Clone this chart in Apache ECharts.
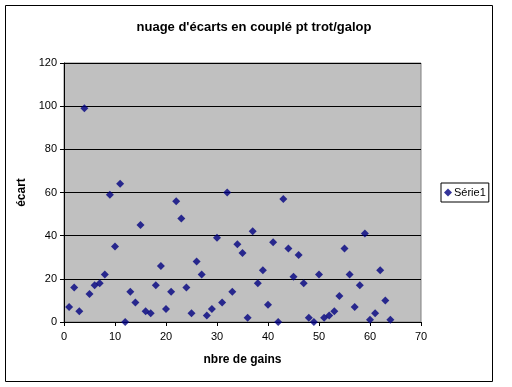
<!DOCTYPE html>
<html>
<head>
<meta charset="utf-8">
<script src="https://cdn.jsdelivr.net/npm/echarts@6/dist/echarts.min.js"></script>
<style>html,body{margin:0;padding:0;background:#fff}#c{width:512px;height:387px}</style>
</head>
<body>
<div id="c"></div>
<script>
const xValues = [1,2,3,4,5,6,7,8,9,10,11,12,13,14,15,16,17,18,19,20,21,22,23,24,25,26,27,28,29,30,31,32,33,34,35,36,37,38,39,40,41,42,43,44,45,46,47,48,49,50,51,52,53,54,55,56,57,58,59,60,61,62,63,64];
const yValues = [7,16,5,99,13,17,18,22,59,35,64,0,14,9,45,5,4,17,26,6,14,56,48,16,4,28,22,3,6,39,9,60,14,36,32,2,42,18,24,8,37,0,57,34,21,31,18,2,0,22,2,3,5,12,34,22,7,17,41,1,4,24,10,1];
const seriesName = 'Série1';
const titleText = "nuage d'écarts en couplé pt trot/galop";
const xName = 'nbre de gains';
const yName = 'écart';

const chart = echarts.init(document.getElementById('c'), null, {renderer: 'canvas'});
const font = 'Liberation Sans, Arial, sans-serif';
chart.setOption({
  backgroundColor: '#ffffff',
  animation: false,
  title: {
    text: titleText, left: 249, top: 16, textAlign: 'center',
    textStyle: {fontFamily: font, fontSize: 13, fontWeight: 'bold', color: '#000'}
  },
  graphic: [{
    type: 'rect', shape: {x: 5.5, y: 5.5, width: 487, height: 376},
    style: {fill: 'none', stroke: '#000', lineWidth: 1}, silent: true, z: -1
  }],
  legend: {
    left: 441, top: 183, orient: 'vertical',
    data: [{name: seriesName, icon: 'diamond'}],
    itemWidth: 8, itemHeight: 8, itemGap: 2,
    padding: [4, 3, 4, 3],
    borderColor: '#000', borderWidth: 1, backgroundColor: '#fff',
    textStyle: {fontFamily: font, fontSize: 11, color: '#000', padding: [0,0,0,-3]}
  },
  grid: {
    left: 64, top: 63, width: 357, height: 259, show: true,
    backgroundColor: '#C0C0C0', borderColor: '#808080', borderWidth: 1
  },
  xAxis: {
    type: 'value', min: 0, max: 70, interval: 10,
    name: xName, nameLocation: 'middle', nameGap: 32,
    nameTextStyle: {fontFamily: font, fontSize: 12, fontWeight: 'bold', color: '#000'},
    axisLine: {show: true, onZero: false, lineStyle: {color: '#000', width: 1}},
    axisTick: {show: true, length: 4, lineStyle: {color: '#000'}},
    axisLabel: {fontFamily: font, fontSize: 11, color: '#000', margin: 9},
    splitLine: {show: false}
  },
  yAxis: {
    type: 'value', min: 0, max: 120, interval: 20,
    name: yName, nameLocation: 'middle', nameGap: 31, nameRotate: 90,
    nameTextStyle: {fontFamily: font, fontSize: 12, fontWeight: 'bold', color: '#000'},
    axisLine: {show: true, onZero: false, lineStyle: {color: '#000', width: 1}},
    axisTick: {show: true, length: 4, lineStyle: {color: '#000'}},
    axisLabel: {fontFamily: font, fontSize: 11, color: '#000', margin: 7},
    splitLine: {show: true, lineStyle: {color: '#000', width: 1}}
  },
  series: [{
    name: seriesName, type: 'scatter', symbol: 'diamond', symbolSize: 8,
    itemStyle: {color: '#000080'},
    data: xValues.map((x, i) => [x, yValues[i]])
  }]
});
</script>
</body>
</html>
